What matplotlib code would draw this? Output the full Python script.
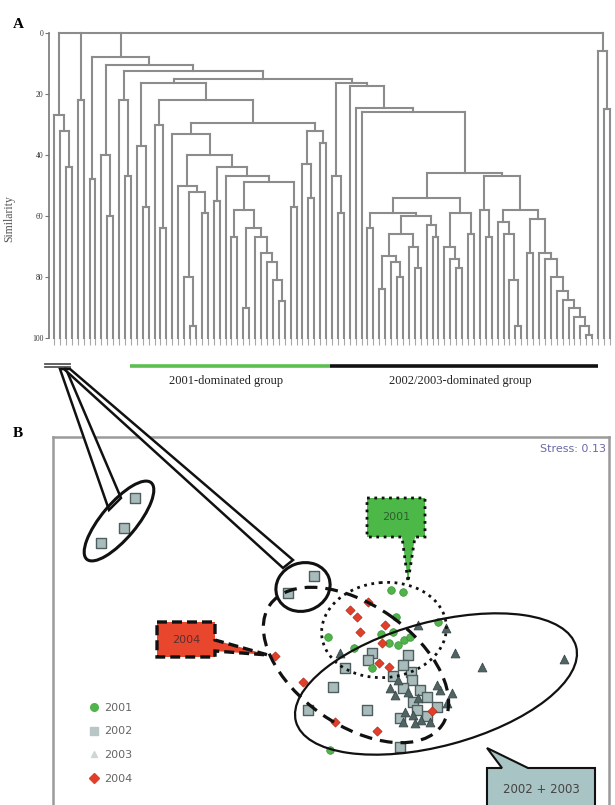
import matplotlib
matplotlib.use("Agg")
import matplotlib.pyplot as plt
from matplotlib.patches import Ellipse, Polygon
from matplotlib.lines import Line2D

# ---- panel A: cluster dendrogram (node = [similarity, child, child, ...]) ----
L = None  # one sample (leaf)

outgroup_left = [27, L, [32, L, [44, L, L]]]
pair_early = [22, L, L]
g2001_a = [48, L, L]
g2001_b = [40, L, [60, L, L]]
g2001_c = [22, L, [47, L, L]]
g2001_d = [37, L, [57, L, L]]
g2001_e = [30, L, [64, L, L]]
g2001_f = [50, L, [52, [80, L, [96, L, L]], [59, L, L]]]
g2001_chain = [64, [90, L, L], [67, L, [72, L, [75, L, [81, L, [88, L, L]]]]]]
g2001_g = [44, [55, L, L], [47, L, [49, [58, [67, L, L], g2001_chain], [57, L, L]]]]
g2001_h = [32, [43, L, [54, L, L]], [36, L, L]]
g0203_a = [47, L, [59, L, L]]
g0203_b = [54,
           [59, [64, L, L],
            [60, [66, [73, [84, L, L], [75, L, [80, L, L]]], [70, L, [77, L, L]]],
             [63, L, [67, L, L]]]],
           [59, [70, L, [74, L, [77, L, L]]], [66, L, L]]]
g0203_tail = [72, L, [74, L, [80, L, [84.5, L, [87.5, L, [90, L, [93, L, [96, L, [99, L, L]]]]]]]]]
g0203_c = [47, [58, L, [67, L, L]],
           [58, [62, L, [66, L, [81, L, [96, L, L]]]], [61, [72, L, L], g0203_tail]]]
outgroup_right = [6, L, [25, L, L]]

g2001_core = [29.5, [33, L, [40, g2001_f, g2001_g]], g2001_h]
g0203_core = [17.5, L, [24.5, L, [26, L, [46, g0203_b, g0203_c]]]]
tree = [0, outgroup_left, pair_early,
        [8, g2001_a,
         [10.5, g2001_b,
          [12.5, g2001_c,
           [15, [16.5, g2001_d, [22, g2001_e, g2001_core]],
            [16.5, g0203_a, g0203_core]]]]],
        outgroup_right]

sim_ticks = [0, 20, 40, 60, 80, 100]

# ---- panel B: MDS ordination ----
years = ["2001", "2002", "2003", "2004"]
mds1_2001 = [0.61, 0.73, 0.66, 1.08, -0.02, 0.24, 0.51, 0.63, 0.59, 0.68, 0.74, 0.80, 0.42, 0.00]
mds2_2001 = [0.60, 0.58, 0.33, 0.28, 0.13, 0.02, 0.16, 0.18, 0.07, 0.05, 0.10, 0.13, -0.18, -1.00]
mds1_2002 = [-1.95, -2.06, -2.29, -0.16, -0.42, 0.42, 0.38, 0.78, 0.15, 0.81, 0.03, 0.37, -0.22,
             0.70, 0.73, 0.63, 0.82, 0.73, 0.90, 0.97, 0.83, 0.70, 0.97, 0.87, 1.07]
mds2_2002 = [1.52, 1.22, 1.07, 0.74, 0.57, -0.03, -0.10, -0.05, -0.18, -0.22, -0.37, -0.60, -0.60,
             -0.97, -0.15, -0.26, -0.30, -0.38, -0.40, -0.47, -0.52, -0.68, -0.66, -0.60, -0.57]
mds1_2003 = [0.88, 1.16, 0.10, 1.25, 1.52, 2.34, 1.10, 1.22, 1.17, 0.68, 0.78, 0.65, 0.75, 0.83,
             0.91, 0.73, 0.85, 1.00, 0.60, 0.88, 1.07]
mds2_2003 = [0.25, 0.22, -0.03, -0.03, -0.17, -0.09, -0.40, -0.43, -0.53, -0.30, -0.42, -0.45,
             -0.62, -0.65, -0.70, -0.72, -0.73, -0.72, -0.38, -0.48, -0.35]
mds1_2004 = [0.38, 0.20, 0.27, 0.55, 0.30, 0.52, 0.49, 0.59, -0.55, -0.27, 0.05, 0.47, 1.02]
mds2_2004 = [0.48, 0.40, 0.33, 0.25, 0.18, 0.07, -0.13, -0.17, -0.06, -0.32, -0.72, -0.81, -0.61]
stress = 0.13

GREEN = "#4fb54a"
SQ_FACE = "#a9bcbc"
SQ_EDGE = "#4e5e5e"
TRI = "#506464"
RED = "#e0402a"
SERIF = ["Liberation Serif", "DejaVu Serif"]

plt.rcParams["font.family"] = ["DejaVu Sans"]
fig = plt.figure(figsize=(6.15, 8.05), dpi=100)

# ---------------- panel A ----------------
ax_a = fig.add_axes([49 / 615, 1 - 338 / 805, 565 / 615, 305 / 805])
segs = []
leaf_x = []


def place(node):
    if node is None:
        x = len(leaf_x)
        leaf_x.append(x)
        return x, 100
    h = node[0]
    kids = [place(c) for c in node[1:]]
    for kx, kh in kids:
        segs.append(([kx, kx], [kh, h]))
    segs.append(([kids[0][0], kids[-1][0]], [h, h]))
    return (kids[0][0] + kids[-1][0]) / 2, h


place(tree)
for xs, ys in segs:
    ax_a.plot(xs, ys, color="#8c8c8c", lw=1.5, solid_capstyle="projecting", clip_on=False)

ax_a.set_ylim(100, 0)
ax_a.set_xlim(-0.85, len(leaf_x) - 1 + 0.68)
ax_a.set_xticks(leaf_x)
ax_a.tick_params(axis="x", length=5, width=0.8, color="#a8a8a8", labelbottom=False)
ax_a.set_yticks(sim_ticks)
ax_a.set_yticklabels([str(t) for t in sim_ticks], fontsize=5.5, family=SERIF, color="#333")
ax_a.tick_params(axis="y", length=3, width=0.8, color="#777", pad=1)
for s in ["top", "right", "bottom"]:
    ax_a.spines[s].set_visible(False)
ax_a.spines["left"].set_color("#777")
ax_a.spines["left"].set_linewidth(1.2)
ax_a.set_ylabel("Similarity", fontsize=8.5, family=SERIF, color="#555")
ax_a.yaxis.set_label_coords(-0.06, 0.39)

# ---------------- panel B ----------------
ax_b = fig.add_axes([53 / 615, (805 - 815) / 805, 556 / 615, 378 / 805])
ax_b.set_xlim(-2.77, 2.79)
ax_b.set_ylim(-1.65, 2.13)
ax_b.set_xticks([])
ax_b.set_yticks([])
for s in ax_b.spines.values():
    s.set_color("#9a9a9a")
    s.set_linewidth(1.8)

ax_b.scatter(mds1_2002, mds2_2002, marker="s", s=42, c=SQ_FACE, edgecolors=SQ_EDGE, linewidths=1.0, zorder=3)
ax_b.scatter(mds1_2003, mds2_2003, marker="^", s=40, c=TRI, edgecolors="#3a4a4a", linewidths=0.6, zorder=3)
ax_b.scatter(mds1_2001, mds2_2001, marker="o", s=30, c=GREEN, edgecolors="#3d8f3a", linewidths=0.5, zorder=4)
ax_b.scatter(mds1_2004, mds2_2004, marker="D", s=22, c=RED, edgecolors="#b52a1a", linewidths=0.5, zorder=4)

ax_b.text(0.9946, 0.982, f"Stress: {stress:.2f}", transform=ax_b.transAxes, ha="right", va="top",
          fontsize=8, color="#6a6aa8")

handles = [
    Line2D([], [], ls="", marker="o", ms=5.5, mfc=GREEN, mec=GREEN),
    Line2D([], [], ls="", marker="s", ms=5.5, mfc="#b8c6c6", mec="#b8c6c6"),
    Line2D([], [], ls="", marker="^", ms=4, mfc="#d0d6d6", mec="#d0d6d6"),
    Line2D([], [], ls="", marker="D", ms=5, mfc=RED, mec=RED),
]
ax_b.legend(handles, years, loc="upper left", bbox_to_anchor=(83 / 615, 1 - 697 / 805),
            bbox_transform=fig.transFigure, frameon=False, fontsize=8, handlelength=1.0,
            handletextpad=0.4, labelspacing=1.25, borderpad=0, labelcolor="#666")

# ---------------- overlay in figure pixels ----------------
ov = fig.add_axes([0, 0, 1, 1])
ov.set_xlim(0, 615)
ov.set_ylim(805, 0)
ov.axis("off")
ov.patch.set_alpha(0)

ov.text(18, 25, "A", fontsize=11, fontweight="bold", family=SERIF, ha="center", va="center")
ov.text(18, 433, "B", fontsize=11, fontweight="bold", family=SERIF, ha="center", va="center")

# group bars under the dendrogram
ov.plot([45, 70], [364, 364], color="#555", lw=1.3)
ov.plot([45, 70], [367.5, 367.5], color="#555", lw=1.3)
ov.plot([130, 330], [366, 366], color="#5cbf50", lw=2.6, solid_capstyle="butt")
ov.plot([330, 598], [366, 366], color="#111", lw=2.6, solid_capstyle="butt")
ov.text(226, 381, "2001-dominated group", fontsize=9, family=SERIF, ha="center", va="center", color="#222")
ov.text(460, 381, "2002/2003-dominated group", fontsize=9, family=SERIF, ha="center", va="center", color="#222")

# pointers from the outgroup bar to the ordination
ov.add_patch(Polygon([(60, 369), (66, 369), (121, 498), (109, 510)], closed=True,
                     fc="white", ec="#111", lw=1.8, zorder=2))
ov.add_patch(Polygon([(64, 369), (70, 369), (293, 560), (283, 568)], closed=True,
                     fc="white", ec="#111", lw=1.8, zorder=2))

# group ellipses
ov.add_patch(Ellipse((119, 521), 100, 35, angle=-50, fill=False, ec="#111", lw=2.2, zorder=2))
ov.add_patch(Ellipse((303, 587), 55, 48, angle=-20, fill=False, ec="#111", lw=2.2, zorder=2))
ov.add_patch(Ellipse((384, 630), 125, 95, angle=-5, fill=False, ec="#111", lw=2.0, ls=":", zorder=2))
ov.add_patch(Ellipse((356, 665), 210, 120, angle=35, fill=False, ec="#111", lw=2.3,
                     ls=(0, (4, 2.5)), zorder=2))
ov.add_patch(Ellipse((436, 684), 290, 124, angle=-15, fill=False, ec="#111", lw=1.6, zorder=2))

# callout labels
ov.add_patch(Polygon([(367, 498), (425, 498), (425, 537), (415, 537), (408, 582), (402, 537), (367, 537)],
                     closed=True, fc="#4cb848", ec="#111", lw=2.0, ls=":", zorder=5))
ov.text(396, 517, "2001", fontsize=8, ha="center", va="center", color="#2f5f2f", zorder=6)

ov.add_patch(Polygon([(157, 622), (215, 622), (215, 640), (268, 655), (215, 651), (215, 657), (157, 657)],
                     closed=True, fc="#e8472e", ec="#111", lw=2.4, ls=(0, (3, 1.5)), zorder=5))
ov.text(186, 640, "2004", fontsize=8, ha="center", va="center", color="#5a3030", zorder=6)

ov.add_patch(Polygon([(487, 768), (502, 768), (487, 748), (528, 768), (595, 768), (595, 812), (487, 812)],
                     closed=True, fc="#a9c4c4", ec="#111", lw=1.5, zorder=5))
ov.text(541, 789, "2002 + 2003", fontsize=8.5, ha="center", va="center", color="#444", zorder=6)

fig.savefig("out.png", dpi=100)
